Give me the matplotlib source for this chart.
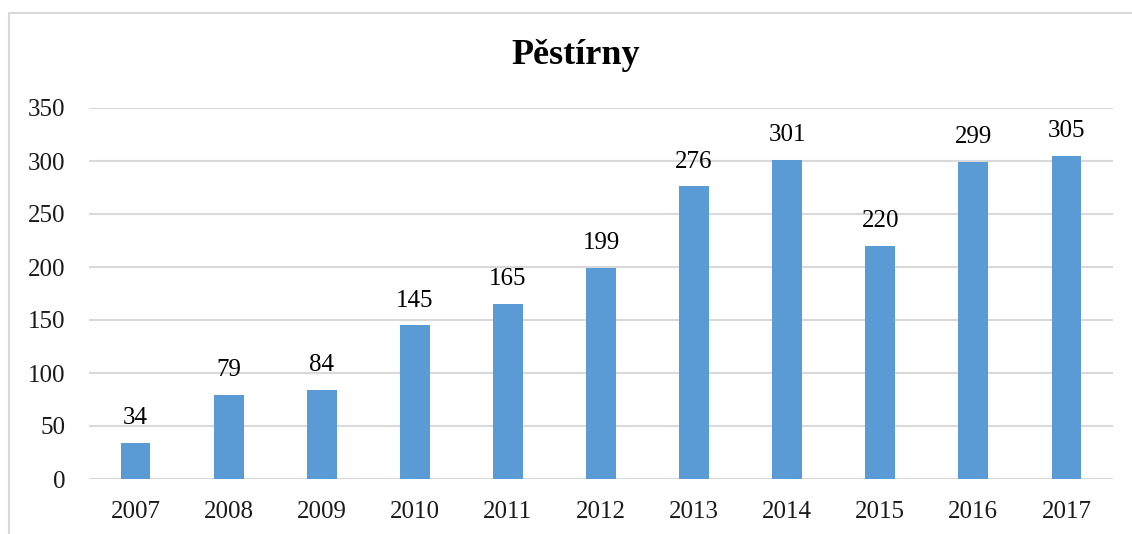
import matplotlib.pyplot as plt
import matplotlib.patches as patches

plt.rcParams['font.family'] = ['Liberation Serif', 'DejaVu Serif']

years = ['2007', '2008', '2009', '2010', '2011', '2012', '2013', '2014', '2015', '2016', '2017']
values = [34, 79, 84, 145, 165, 199, 276, 301, 220, 299, 305]
yticks = [0, 50, 100, 150, 200, 250, 300, 350]

W, H = 1132, 534
fig = plt.figure(figsize=(W / 100, H / 100), dpi=100)

# outer chart frame (left/top edges visible)
fig.patches.append(patches.Rectangle((9 / W, -0.1), 1.2, (H - 13) / H + 0.1,
                                     transform=fig.transFigure, fill=False,
                                     edgecolor='#d9d9d9', linewidth=1.5))

ax = fig.add_axes([89 / W, 1 - 479 / H, (1113 - 89) / W, (479 - 108) / H])
x = range(len(years))
bars = ax.bar(x, values, width=0.32, color='#5b9bd5', zorder=3)

for b, v in zip(bars, values):
    ax.text(b.get_x() + b.get_width() / 2, v + 13, str(v),
            ha='center', va='bottom', fontsize=18)

ax.set_xlim(-0.5, len(years) - 0.5)
ax.set_ylim(0, 350)
ax.set_yticks(yticks)
ax.set_xticks(list(x))
ax.set_xticklabels(years)
ax.tick_params(axis='both', length=0, labelsize=18, colors='#1a1a1a')
ax.tick_params(axis='y', pad=17)
ax.tick_params(axis='x', pad=16)
ax.grid(axis='y', color='#d9d9d9', linewidth=1.5, zorder=0)
for s in ax.spines.values():
    s.set_visible(False)

fig.text(576 / W, 1 - 56 / H, 'Pěstírny', ha='center', va='center',
         fontsize=26, fontweight='bold')

fig.savefig('out.png', dpi=100)
